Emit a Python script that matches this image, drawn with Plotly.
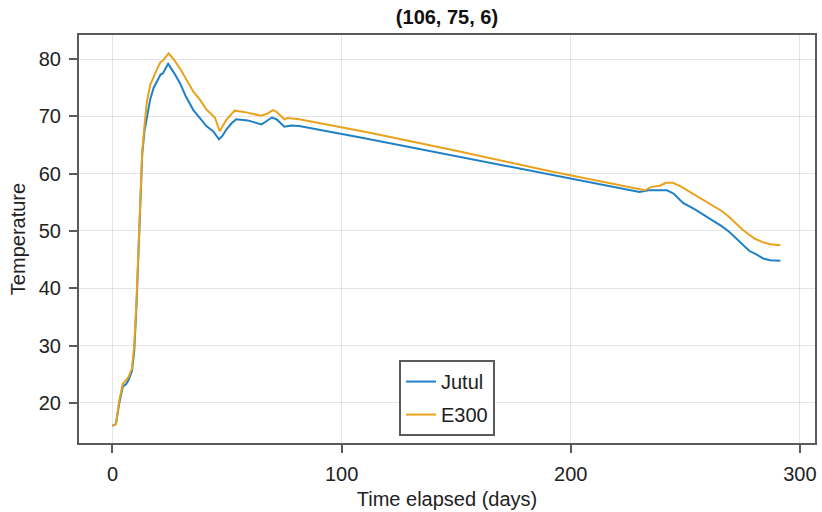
import plotly.graph_objects as go

# ---- data ----
jutul_days = [0, 1.5, 3, 4.5, 6, 7, 8.5, 9.5, 10.5, 11.5, 12.3, 13, 14, 15, 16.5, 18, 19.5, 21, 22,
              24.3, 27, 29.5, 32, 35.3, 38, 41, 43.9, 46.5, 48, 49.7, 52, 54, 59, 63, 65, 67, 69.5,
              71.6, 73, 75, 78, 81.5, 110, 150, 190, 211, 230, 234, 242, 245, 249, 254, 259, 263,
              266, 269, 272, 275, 278, 281, 284, 287, 291.5]
jutul_temp = [16.0, 16.3, 20.0, 22.8, 23.3, 24.0, 25.5, 29.0, 37.0, 48.5, 57.5, 63.5, 67.5, 70.0,
              73.0, 75.0, 76.3, 77.3, 77.5, 79.2, 77.5, 75.8, 73.5, 71.1, 69.8, 68.3, 67.4, 66.0,
              66.6, 67.7, 68.8, 69.5, 69.3, 68.9, 68.6, 69.1, 69.8, 69.5, 68.9, 68.2, 68.4, 68.3,
              66.2, 63.1, 60.0, 58.4, 56.8, 57.1, 57.1, 56.5, 54.9, 53.8, 52.6, 51.5, 50.8, 49.9,
              48.8, 47.6, 46.5, 45.9, 45.2, 44.9, 44.8]

e300_days = [0, 1.5, 3, 4.5, 6, 7, 8.5, 9.5, 10.5, 11.5, 12.3, 13, 14, 15, 16.5, 18, 19.5, 21, 22,
             24.5, 27, 30, 33, 35.3, 38, 41, 44.7, 46.8, 49.7, 53.3, 58.4, 62, 64.9, 67.7, 69.9,
             71.6, 75, 76.4, 81.5, 111.8, 150, 190, 211.4, 232.3, 235.2, 238.8, 241.6, 244.5, 248,
             251.7, 256, 260.4, 263, 266.2, 269, 271.9, 274.8, 277.7, 280.6, 283.5, 287, 291.5]
e300_temp = [16.0, 16.3, 20.5, 23.3, 24.0, 24.5, 26.0, 30.0, 38.0, 50.0, 59.0, 64.0, 68.5, 72.5,
             75.5, 77.0, 78.3, 79.5, 79.7, 81.0, 79.8, 78.0, 76.0, 74.3, 73.0, 71.2, 69.8, 67.4,
             69.4, 71.0, 70.7, 70.4, 70.1, 70.5, 71.1, 70.8, 69.5, 69.7, 69.5, 67.2, 64.0, 60.5,
             58.8, 57.1, 57.7, 57.9, 58.4, 58.4, 57.8, 56.9, 55.9, 54.9, 54.2, 53.4, 52.5, 51.4,
             50.3, 49.4, 48.6, 48.1, 47.7, 47.5]

x_ticks = [0, 100, 200, 300]
y_ticks = [20, 30, 40, 50, 60, 70, 80]

FONT = "Liberation Sans, Arial, Helvetica, sans-serif"
FRAME = "#5a5a5a"
GRID = "rgba(0,0,0,0.10)"

fig = go.Figure()
fig.add_trace(go.Scatter(x=jutul_days, y=jutul_temp, mode="lines", name="Jutul",
                         legendgroup="a", line=dict(color="#1f80c4", width=2)))
fig.add_trace(go.Scatter(x=e300_days, y=e300_temp, mode="lines", name="E300",
                         legendgroup="b", line=dict(color="#e8a21c", width=2)))

fig.update_layout(
    width=822, height=512,
    margin=dict(l=79, r=5, t=35, b=68),
    paper_bgcolor="white", plot_bgcolor="white",
    font=dict(family=FONT, size=20, color="#222222"),
    title=dict(text="<b>(106, 75, 6)</b>", x=0.5, xref="paper", xanchor="center",
               y=1 - 17 / 512, yref="container", yanchor="middle",
               font=dict(size=20, color="#111111")),
    legend=dict(x=0.5, xanchor="center", y=0.017, yanchor="bottom",
                bordercolor=FRAME, borderwidth=2, bgcolor="white",
                font=dict(size=20, color="#222222"),
                traceorder="grouped", tracegroupgap=4),
    showlegend=True,
)
fig.update_xaxes(range=[-14.6, 306.6], tickvals=x_ticks, showgrid=True, gridcolor=GRID,
                 gridwidth=1, zeroline=False, showline=True, mirror=True, linecolor=FRAME,
                 linewidth=2, ticks="outside", ticklen=8, tickcolor=FRAME, tickwidth=1.5,
                 ticklabelstandoff=4,
                 title=dict(text="Time elapsed (days)", standoff=8, font=dict(size=20)),
                 tickfont=dict(size=20))
fig.update_yaxes(range=[13.0, 84.2], tickvals=y_ticks, showgrid=True, gridcolor=GRID,
                 gridwidth=1, zeroline=False, showline=True, mirror=True, linecolor=FRAME,
                 linewidth=2, ticks="outside", ticklen=8, tickcolor=FRAME, tickwidth=1.5,
                 ticklabelstandoff=4,
                 title=dict(text="Temperature", standoff=8, font=dict(size=20)),
                 tickfont=dict(size=20))

fig.write_html("out.html")
